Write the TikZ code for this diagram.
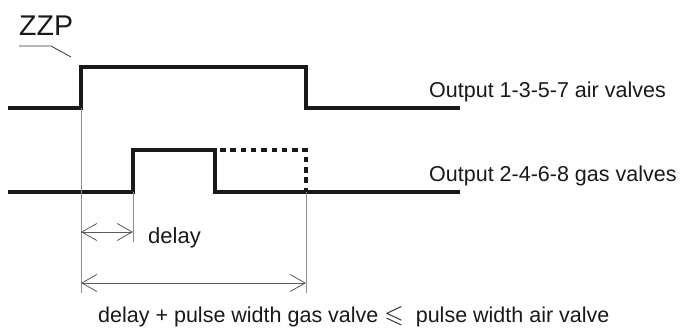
\documentclass[tikz,border=0pt]{standalone}
\usepackage{fontspec}
\usepackage{amssymb}
\setmainfont{Liberation Sans}
\usetikzlibrary{arrows.meta}
\begin{document}
\begin{tikzpicture}[x=1pt,y=-1pt,
  sig/.style={line width=3.6pt,line cap=rect,line join=miter,black!90},
  dotsig/.style={line width=4pt,black!90,dash pattern=on 5.5pt off 4.8pt},
  guide/.style={line width=0.8pt,black!45},
  dim/.style={line width=0.8pt,black!65,{Straight Barb[length=15pt,width=17pt,line width=0.8pt]}-{Straight Barb[length=15pt,width=17pt,line width=0.8pt]}},
  lbl/.style={inner sep=0pt,anchor=base west,font=\fontsize{21.5}{24}\selectfont,black!90}]
\useasboundingbox (0,0) rectangle (680,327);
% air signal
\coordinate (a0) at (10,108);
\coordinate (a1) at (81,108);
\coordinate (a2) at (81,67);
\coordinate (a3) at (306,67);
\coordinate (a4) at (306,108);
\coordinate (a5) at (458,108);
\draw[sig] (a0) -- (a1) -- (a2) -- (a3) -- (a4) -- (a5);
% gas signal
\coordinate (g0) at (10,192);
\coordinate (g1) at (133,192);
\coordinate (g2) at (133,150);
\coordinate (g3) at (215,150);
\coordinate (g4) at (215,192);
\coordinate (g5) at (458,192);
\coordinate (g6) at (306,150);
\coordinate (g7) at (306,192);
\draw[sig] (g0) -- (g1) -- (g2) -- (g3) -- (g4) -- (g5);
\draw[dotsig] (g3) ++(5,0) -- (g6) -- (g7);
% guides
\coordinate (v1) at (81,293);
\coordinate (v2) at (133,242);
\coordinate (v3) at (306,293);
\draw[guide] (a1) -- (v1);
\draw[guide] (g1) -- (v2);
\draw[guide] (g7) -- (v3);
% dimension arrows
\coordinate (d1) at (81,232);
\coordinate (d2) at (133,232);
\coordinate (e1) at (81,283);
\coordinate (e2) at (306,283);
\draw[dim] (d1) -- (d2);
\draw[dim] (e1) -- (e2);
% labels
\node[lbl] (lair) at (429,97) {Output 1-3-5-7 air valves};
\node[lbl] (lgas) at (429,181) {Output 2-4-6-8 gas valves};
\node[lbl,font=\fontsize{22}{24}\selectfont] (ldelay) at (148,243) {delay};
\node[lbl] (lcond) at (98,322) {delay + pulse width gas valve {\fontsize{25}{28}\selectfont$\leqslant$}\ \ pulse width air valve};
\node[lbl,font=\fontsize{28.5}{30}\selectfont] (zzp) at (19,35) {ZZP};
% leader
\coordinate (z1) at (19,46);
\coordinate (z2) at (51,46);
\coordinate (z3) at (71,57);
\draw[line width=0.8pt,black!80] (z1) -- (z2) -- (z3);
\end{tikzpicture}
\end{document}
